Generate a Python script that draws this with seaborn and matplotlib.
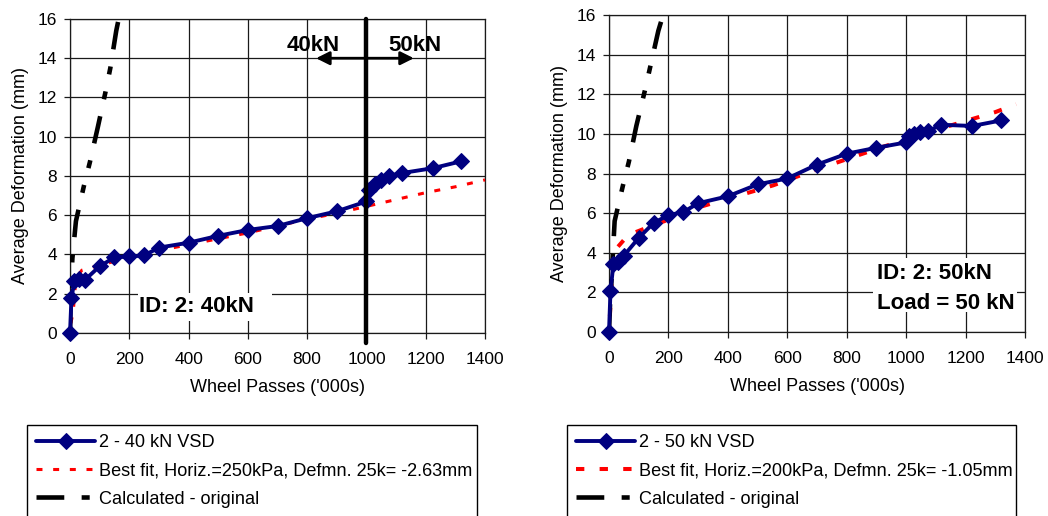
import matplotlib
matplotlib.use("Agg")
import matplotlib.pyplot as plt
import seaborn as sns
from matplotlib.patches import Rectangle

# ---------------- data ----------------
# Left panel: ID 2, 40 kN
vsd40_x = [0, 5, 15, 30, 50, 100, 150, 200, 250, 300, 400, 500, 600, 700, 800, 900,
           1000, 1010, 1030, 1050, 1075, 1120, 1225, 1320]
vsd40_y = [0, 1.8, 2.65, 2.75, 2.7, 3.4, 3.85, 3.9, 3.95, 4.35, 4.6, 4.95, 5.25, 5.45,
           5.85, 6.2, 6.7, 7.3, 7.6, 7.8, 8.0, 8.15, 8.4, 8.75]
fit40_x = [3, 11, 20, 40, 100, 150, 200, 300, 400, 500, 600, 700, 800, 900, 1000,
           1100, 1200, 1300, 1400]
fit40_y = [0.5, 1.1, 2.8, 3.2, 3.45, 3.65, 3.85, 4.2, 4.5, 4.8, 5.1, 5.45, 5.8, 6.1,
           6.45, 6.8, 7.15, 7.45, 7.8]
calc40_x = [0, 2, 5, 8, 20, 47, 67, 94, 120, 136, 156, 175]
calc40_y = [0, 1.5, 2.8, 3.8, 5.7, 7.5, 8.7, 10.5, 12.3, 13.5, 15.4, 16.8]

# Right panel: ID 2, 50 kN
vsd50_x = [0, 5, 15, 30, 50, 100, 150, 200, 250, 300, 400, 500, 600, 700, 800, 900,
           1000, 1010, 1025, 1045, 1073, 1117, 1223, 1320]
vsd50_y = [0, 2.05, 3.45, 3.55, 3.85, 4.75, 5.5, 5.9, 6.05, 6.5, 6.85, 7.45, 7.75,
           8.45, 9.0, 9.3, 9.57, 9.9, 10.0, 10.08, 10.13, 10.46, 10.4, 10.68]
fit50_x = [3, 6, 11, 15, 30, 65, 100, 150, 225, 303, 462, 552, 698, 776, 922, 1000,
           1100, 1200, 1300, 1370]
fit50_y = [0.8, 1.7, 3.0, 3.9, 4.3, 4.9, 5.1, 5.4, 5.8, 6.3, 7.0, 7.4, 8.2, 8.6, 9.35,
           9.7, 10.2, 10.65, 11.1, 11.5]
calc50_x = [0, 4, 8, 19, 47, 67, 92, 121, 139, 166, 180, 190]
calc50_y = [0, 1.6, 2.5, 5.6, 7.4, 8.6, 10.4, 12.2, 13.4, 15.2, 15.9, 16.6]

labels_40 = ["2 - 40 kN VSD",
             "Best fit, Horiz.=250kPa, Defmn. 25k= -2.63mm",
             "Calculated - original"]
labels_50 = ["2 - 50 kN VSD",
             "Best fit, Horiz.=200kPa, Defmn. 25k= -1.05mm",
             "Calculated - original"]

x_ticks = [0, 200, 400, 600, 800, 1000, 1200, 1400]
y_ticks = [0, 2, 4, 6, 8, 10, 12, 14, 16]

# ---------------- style ----------------
sns.set_theme(style="white")
plt.rcParams["font.family"] = ["Liberation Sans", "DejaVu Sans"]
plt.rcParams["lines.scale_dashes"] = False
plt.rcParams["text.color"] = "black"
plt.rcParams["axes.labelcolor"] = "black"
plt.rcParams["xtick.color"] = "black"
plt.rcParams["ytick.color"] = "black"

NAVY = "#000080"
RED = "#FF0000"
GRID = "#1a1a1a"

fig = plt.figure(figsize=(10.48, 5.16), dpi=100)
ax1 = fig.add_axes([0.0668, 0.3547, 0.396, 0.6085])
ax2 = fig.add_axes([0.5811, 0.3566, 0.397, 0.6143])


def draw_panel(ax, vx, vy, fx, fy, cx, cy, labels, fit_ls, fit_lw):
    sns.lineplot(x=vx, y=vy, ax=ax, color=NAVY, linewidth=2.8, marker="D",
                 markersize=8.5, markeredgecolor=NAVY, markerfacecolor=NAVY,
                 errorbar=None, label=labels[0], clip_on=False, zorder=4)
    sns.lineplot(x=fx, y=fy, ax=ax, color=RED, linewidth=fit_lw, linestyle=fit_ls,
                 errorbar=None, label=labels[1], clip_on=False, zorder=3)
    sns.lineplot(x=cx, y=cy, ax=ax, color="black", linewidth=3.3,
                 linestyle=(0, (20, 12.5, 5.8, 12.5, 5.8, 12.5)),
                 errorbar=None, label=labels[2], zorder=3.5)
    ax.set_xlim(0, 1400)
    ax.set_ylim(0, 16)
    ax.set_xticks(x_ticks)
    ax.set_yticks(y_ticks)
    ax.grid(True, color=GRID, linewidth=0.9)
    ax.set_axisbelow(True)
    for s in ax.spines.values():
        s.set_color(GRID)
        s.set_linewidth(0.9)
    ax.tick_params(axis="both", which="major", direction="out", length=4.5,
                   width=0.9, color=GRID, labelsize=12.5, labelcolor="black",
                   left=True, bottom=True)
    ax.tick_params(axis="y", pad=5)
    ax.tick_params(axis="x", pad=9)
    ax.set_xlabel("Wheel Passes ('000s)", fontsize=13, labelpad=9, color="black")
    ax.set_ylabel("Average Deformation (mm)", fontsize=13, labelpad=6, color="black")
    h, l = ax.get_legend_handles_labels()
    if ax.get_legend() is not None:
        ax.get_legend().remove()
    return h, l


h1, l1 = draw_panel(ax1, vsd40_x, vsd40_y, fit40_x, fit40_y, calc40_x, calc40_y,
                    labels_40, (0, (4.3, 7.7)), 2.2)
h2, l2 = draw_panel(ax2, vsd50_x, vsd50_y, fit50_x, fit50_y, calc50_x, calc50_y,
                    labels_50, (0, (6, 11)), 2.9)

# ----- annotations: left panel -----
ax1.axvline(1000, ymin=-0.032, ymax=1, color="black", linewidth=3.2, clip_on=False,
            zorder=5)
arrow_kw = dict(arrowstyle="-|>", color="black", lw=2, mutation_scale=20,
                shrinkA=0, shrinkB=0)
ax1.annotate("", xy=(830, 14), xytext=(1000, 14), arrowprops=arrow_kw, zorder=5)
ax1.annotate("", xy=(1160, 14), xytext=(1000, 14), arrowprops=arrow_kw, zorder=5)
ax1.text(820, 14.67, "40kN", fontsize=16, fontweight="bold", ha="center",
         va="center", zorder=6, color="black")
ax1.text(1163, 14.67, "50kN", fontsize=16, fontweight="bold", ha="center",
         va="center", zorder=6, color="black")
ax1.add_patch(Rectangle((230, 0.6), 453, 1.45, facecolor="white", edgecolor="none",
                        zorder=1.5))
ax1.text(232, 1.34, "ID: 2: 40kN", fontsize=16, fontweight="bold", ha="left",
         va="center", zorder=6, color="black")

# ----- annotations: right panel -----
ax2.add_patch(Rectangle((889, 1.03), 483, 2.69, facecolor="white", edgecolor="none",
                        zorder=1.5))
ax2.text(901, 2.96, "ID: 2: 50kN", fontsize=16, fontweight="bold", ha="left",
         va="center", zorder=6, color="black")
ax2.text(901, 1.45, "Load = 50 kN", fontsize=16, fontweight="bold", ha="left",
         va="center", zorder=6, color="black")


# ----- legends -----
def add_legend(handles, labels, x0, w):
    leg = fig.legend(handles, labels, loc="upper left",
                     bbox_to_anchor=(x0, 0.0, w, 0.1764), mode="expand",
                     borderaxespad=0, fontsize=13.1, frameon=True, fancybox=False,
                     edgecolor="black", framealpha=1, handlelength=3.25,
                     handletextpad=0.2, borderpad=0.5, labelspacing=0.62)
    leg.get_frame().set_linewidth(1.0)
    for t in leg.get_texts():
        t.set_color("black")
    return leg


add_legend(h1, l1, 27 / 1048, 450 / 1048)
add_legend(h2, l2, 567 / 1048, 449 / 1048)

fig.savefig("out.png", dpi=100, facecolor="white")
